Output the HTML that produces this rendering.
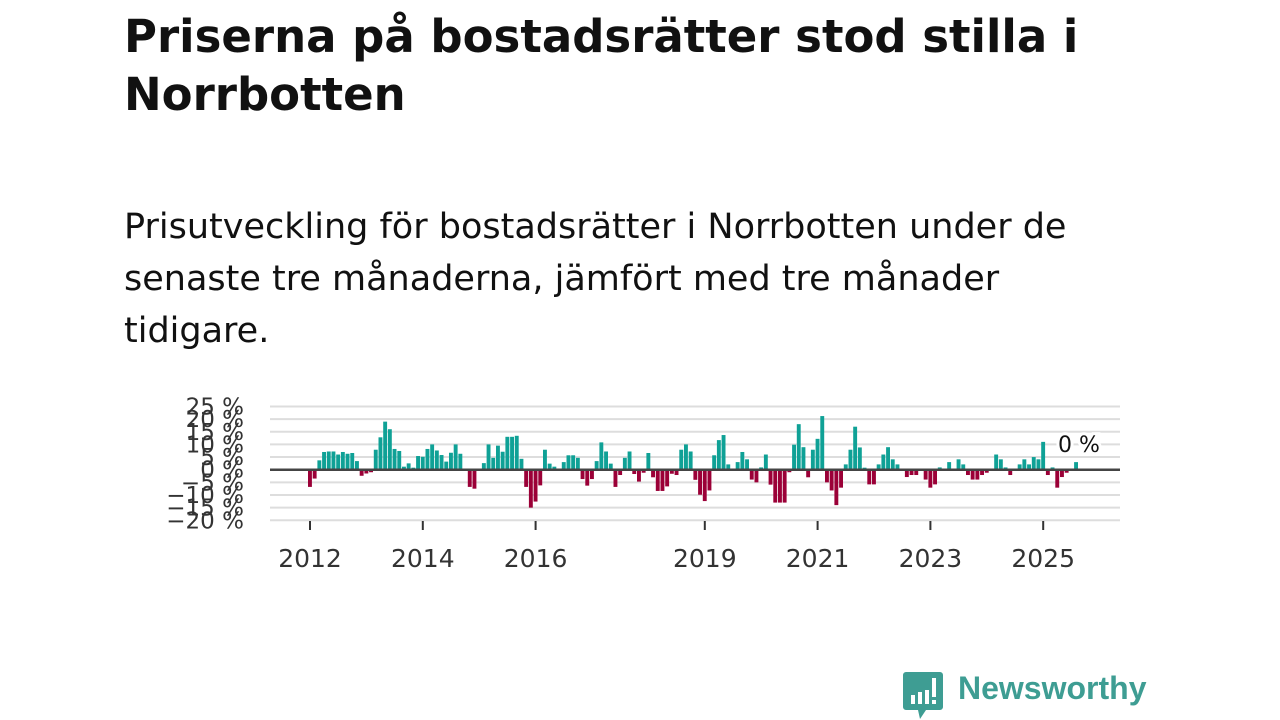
<!DOCTYPE html>
<html><head><meta charset="utf-8"><style>
body{margin:0;width:1280px;height:720px;background:#fff;font-family:"DejaVu Sans","Liberation Sans",sans-serif;overflow:hidden;position:relative}
h1{position:absolute;left:124px;top:8px;margin:0;font-size:45px;line-height:58px;font-weight:bold;color:#111;white-space:nowrap}
p{position:absolute;left:124px;top:201px;margin:0;font-size:35px;line-height:52px;color:#111;white-space:nowrap}
svg{position:absolute;left:0;top:0}
.logo{position:absolute;left:958px;top:670px;font-size:32px;color:#3e9d93;font-weight:bold;font-family:"Liberation Sans",sans-serif}
</style></head><body>
<h1>Priserna på bostadsrätter stod stilla i<br>Norrbotten</h1>
<p>Prisutveckling för bostadsrätter i Norrbotten under de<br>senaste tre månaderna, jämfört med tre månader<br>tidigare.</p>
<svg id="chart" width="1280" height="720"></svg>
<svg width="1280" height="720" style="pointer-events:none">
<path d="M906 672h34a3 3 0 0 1 3 3v32a3 3 0 0 1-3 3h-14l-6 9-2-9h-12a3 3 0 0 1-3-3v-32a3 3 0 0 1 3-3z" fill="#3e9d93"/>
<rect x="911" y="695" width="4" height="9" fill="#fff"/><rect x="918" y="692" width="4" height="12" fill="#fff"/><rect x="925" y="690" width="4" height="14" fill="#fff"/><rect x="932" y="678" width="4" height="19" fill="#fff"/><rect x="932" y="700" width="4" height="4" fill="#fff"/>
</svg>
<div class="logo">Newsworthy</div>
<script>
const values=[-6.8,-3.5,3.7,7,7.2,7.2,6,7,6.3,6.6,3.4,-2.4,-1.5,-1,7.9,12.8,19,16,8.2,7.4,1.2,2.5,0.8,5.4,5.1,8.2,10,7.6,5.8,3.2,6.7,10,6.3,0,-6.8,-7.5,0,2.6,10,4.7,9.5,7.1,13,13,13.4,4.3,-6.8,-15,-12.6,-6.2,7.9,2.4,1.2,0,3,5.7,5.7,4.7,-3.7,-6.3,-3.7,3.4,10.8,7.2,2.4,-6.8,-2.1,4.7,7.2,-1.7,-4.7,-1.2,6.6,-3,-8.4,-8.4,-6.6,-1.6,-2.1,7.9,10,7.2,-4,-9.9,-12.4,-8.2,5.7,11.7,13.7,2.1,0,3,7,4.1,-3.9,-5,0.9,6,-5.9,-13,-13,-13,-1,9.9,18,8.9,-3,7.9,12.2,21.2,-5,-8.2,-14,-7.1,2.1,7.9,17,8.8,0.8,-5.8,-5.8,2.1,6,8.9,4.1,2.1,0,-2.9,-2.1,-2.1,0,-3.9,-7.1,-5.8,0.9,0,3,0,4.1,2.1,-2.1,-3.9,-3.9,-2.1,-1.2,0,6,4.1,0.9,-2.1,0,2.1,4.1,2.1,5,4.1,11,-2.1,0.9,-7.1,-2.9,-1.2,0,3];
const startYear=2012;
const yTicks=[25,20,15,10,5,0,-5,-10,-15,-20];
const xTickYears=[2012,2014,2016,2019,2021,2023,2025];
const NS="http://www.w3.org/2000/svg",svg=document.getElementById('chart');
const x=m=>310+4.7*m, y=v=>469.7-2.53*v;
function mk(t,a){const e=document.createElementNS(NS,t);for(const k in a)e.setAttribute(k,a[k]);svg.appendChild(e);return e;}
yTicks.forEach(v=>{
 const g=mk('line',{x1:270,x2:1120,y1:y(v),y2:y(v),stroke:'#ddd','stroke-width':2});
 
 
 const t=mk('text',{x:244,y:y(v)+8,'text-anchor':'end','font-size':23,fill:'#333'});
 t.textContent=(v<0?'\u2212'+(-v):v)+' %';
 
 
});
values.forEach((v,i)=>{
 if(v===0)return;
 const r=mk('rect',{x:x(i)-2,width:3.9,y:Math.min(y(v),y(0)),height:Math.abs(y(v)-y(0)),fill:v>0?'#0fa196':'#9b0037'});
 
 
});
const z=mk('line',{x1:270,x2:1120,y1:y(0),y2:y(0),stroke:'#444','stroke-width':2.5});


xTickYears.forEach(yr=>{
 const xx=x((yr-startYear)*12);
 const l=mk('line',{x1:xx,x2:xx,y1:521,y2:530,stroke:'#333','stroke-width':2});
 
 
 const t=mk('text',{x:xx,y:567,'text-anchor':'middle','font-size':25,fill:'#333'});
 t.textContent=yr;
 
 
});
const lab=mk('text',{x:1079,y:452,'text-anchor':'middle','font-size':22,fill:'#111',stroke:'#fff','stroke-width':6,'paint-order':'stroke'});
lab.textContent='0 %';


</script>
</body></html>
